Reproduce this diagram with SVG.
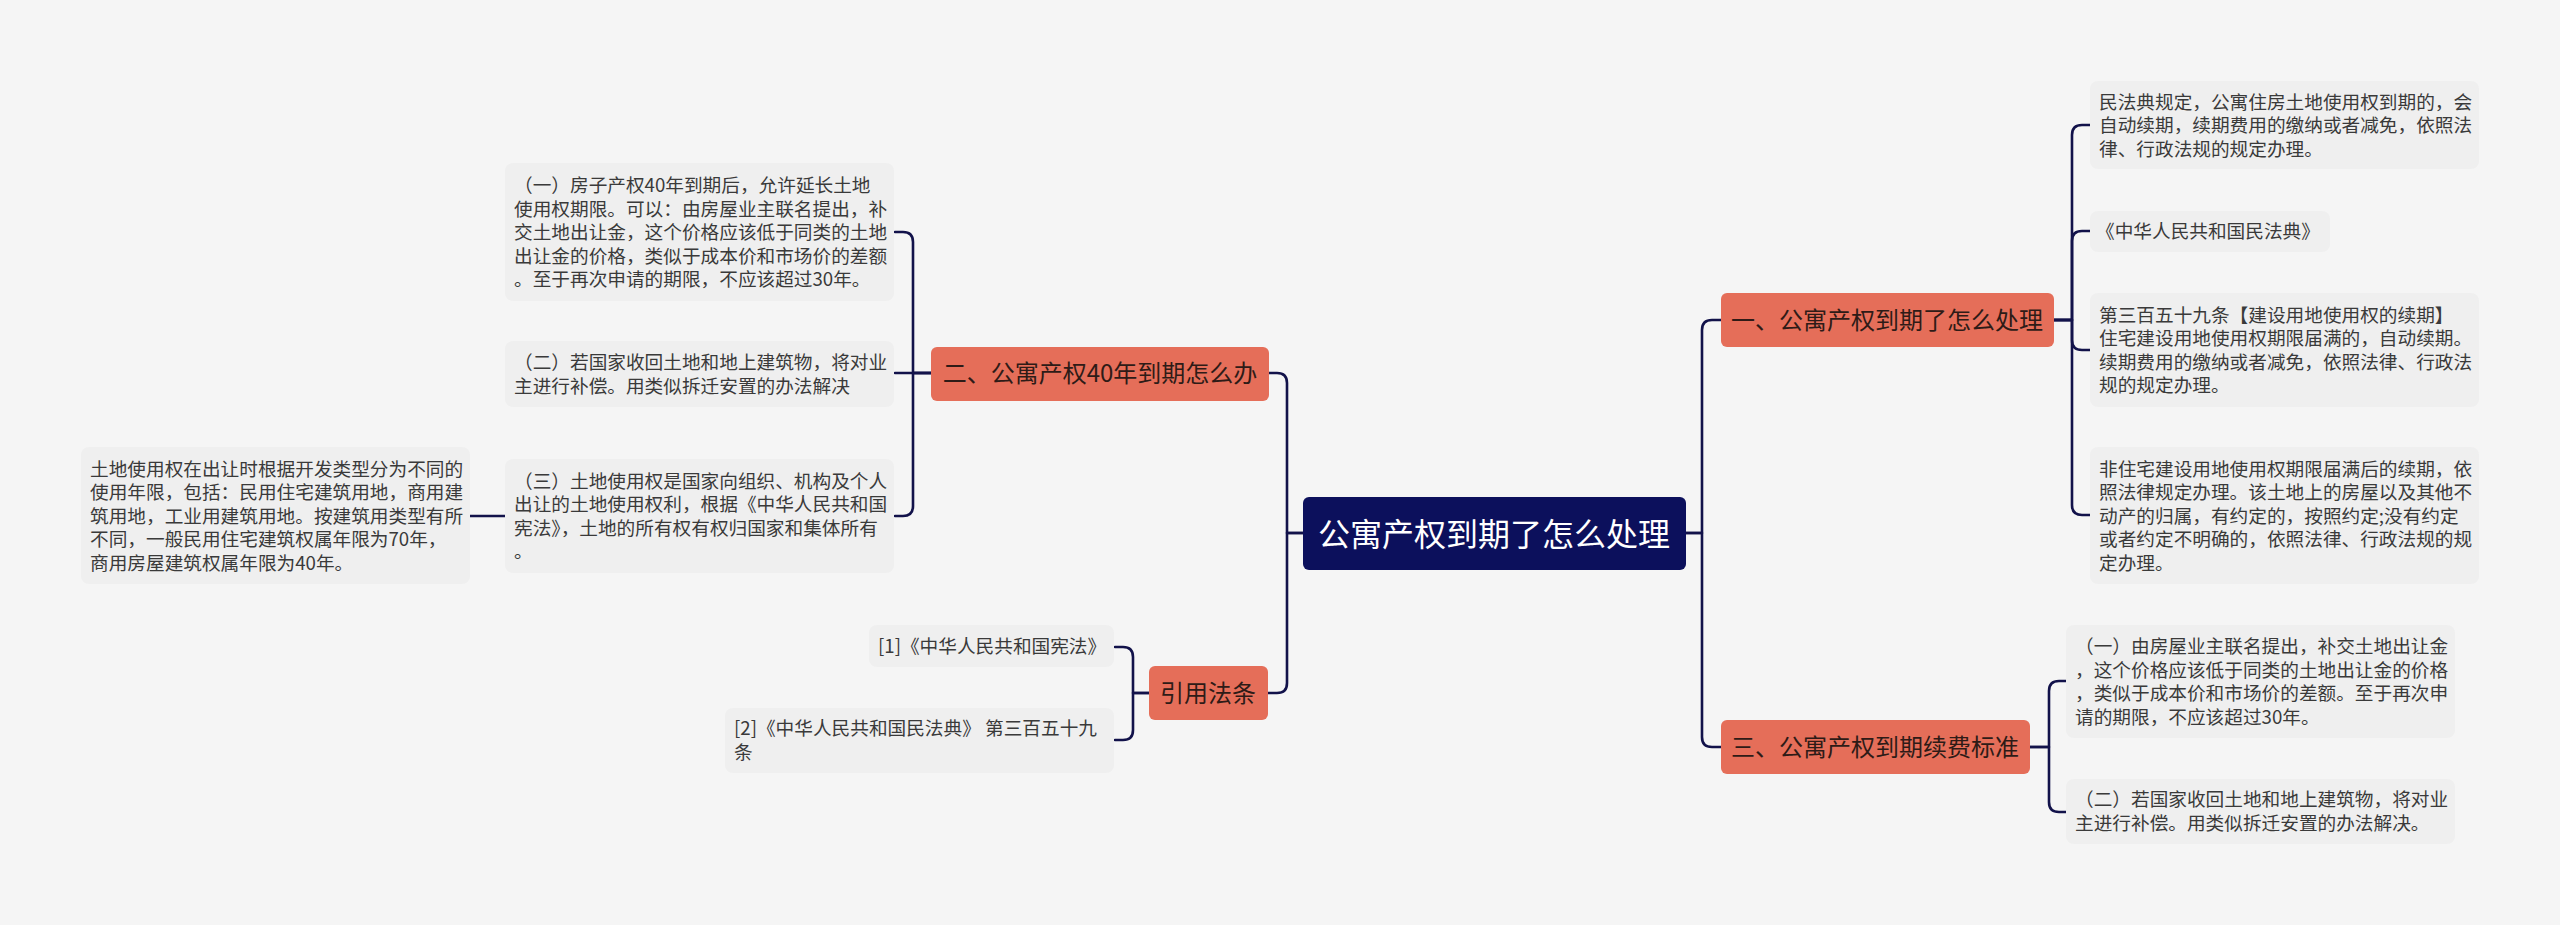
<svg xmlns="http://www.w3.org/2000/svg" width="2560" height="925" viewBox="0 0 2560 925">
<style>
.bg{fill:#f5f5f5}
.leaf{fill:#efefef}
.branch{fill:#e56e59}
.root{fill:#0c105c}
.t{font-family:"Noto Sans CJK SC","Noto Sans",sans-serif;font-size:18.67px;fill:#3a3a3a}
.bt{font-family:"Noto Sans CJK SC","Noto Sans",sans-serif;font-size:24px;fill:#2e1b17;text-anchor:middle}
.rt{font-family:"Noto Sans CJK SC","Noto Sans",sans-serif;font-size:32px;fill:#ffffff;text-anchor:middle}
.c{fill:none;stroke:#12124a;stroke-width:2.6;stroke-linecap:round;stroke-linejoin:round}
</style>
<rect class="bg" x="0" y="0" width="2560" height="925"/>
<g id="connectors">
<path class="c" d="M1303,533 H1287 V383 Q1287,373 1277,373 H1269"/>
<path class="c" d="M1303,533 H1287 V683 Q1287,693 1277,693 H1268"/>
<path class="c" d="M1685,533 H1702 V330 Q1702,320 1712,320 H1721"/>
<path class="c" d="M1685,533 H1702 V737 Q1702,747 1712,747 H1721"/>
<path class="c" d="M931,373 H913 V242 Q913,232 903,232 H895"/>
<path class="c" d="M931,373 H895"/>
<path class="c" d="M931,373 H913 V506 Q913,516 903,516 H895"/>
<path class="c" d="M505,516 H470"/>
<path class="c" d="M1149,693 H1133 V657 Q1133,647 1123,647 H1115"/>
<path class="c" d="M1149,693 H1133 V730 Q1133,740 1123,740 H1115"/>
<path class="c" d="M2054,320 H2072 V135 Q2072,125 2082,125 H2090"/>
<path class="c" d="M2054,320 H2072 V241 Q2072,231 2082,231 H2090"/>
<path class="c" d="M2054,320 H2072 V340 Q2072,350 2082,350 H2090"/>
<path class="c" d="M2054,320 H2072 V505 Q2072,515 2082,515 H2090"/>
<path class="c" d="M2030,747 H2049 V691 Q2049,681 2059,681 H2066"/>
<path class="c" d="M2030,747 H2049 V802 Q2049,812 2059,812 H2066"/>
</g>
<g id="root">
<rect class="root" x="1303" y="497" width="383" height="73" rx="6"/>
<text class="rt" x="1494" y="546">公寓产权到期了怎么处理</text>
</g>
<g id="b2">
<rect class="branch" x="931" y="347" width="338" height="54" rx="6"/>
<text class="bt" x="1100" y="382">二、公寓产权40年到期怎么办</text>
</g>
<g id="b4">
<rect class="branch" x="1149" y="666" width="119" height="54" rx="6"/>
<text class="bt" x="1208" y="702">引用法条</text>
</g>
<g id="b1">
<rect class="branch" x="1721" y="293" width="333" height="54" rx="6"/>
<text class="bt" x="1887" y="329">一、公寓产权到期了怎么处理</text>
</g>
<g id="b3">
<rect class="branch" x="1721" y="720" width="309" height="54" rx="6"/>
<text class="bt" x="1875" y="756">三、公寓产权到期续费标准</text>
</g>
<g id="a1">
<rect class="leaf" x="505" y="163" width="389" height="138" rx="8"/>
<text class="t" x="514" y="192">（一）房子产权40年到期后，允许延长土地</text>
<text class="t" x="514" y="215.5">使用权期限。可以：由房屋业主联名提出，补</text>
<text class="t" x="514" y="239">交土地出让金，这个价格应该低于同类的土地</text>
<text class="t" x="514" y="262.5">出让金的价格，类似于成本价和市场价的差额</text>
<text class="t" x="514" y="286">。至于再次申请的期限，不应该超过30年。</text>
</g>
<g id="a2">
<rect class="leaf" x="505" y="341" width="389" height="66" rx="8"/>
<text class="t" x="514" y="369">（二）若国家收回土地和地上建筑物，将对业</text>
<text class="t" x="514" y="392.5">主进行补偿。用类似拆迁安置的办法解决</text>
</g>
<g id="a3">
<rect class="leaf" x="505" y="459" width="389" height="114" rx="8"/>
<text class="t" x="514" y="487.5">（三）土地使用权是国家向组织、机构及个人</text>
<text class="t" x="514" y="511">出让的土地使用权利，根据《中华人民共和国</text>
<text class="t" x="514" y="534.5">宪法》，土地的所有权有权归国家和集体所有</text>
<text class="t" x="514" y="558">。</text>
</g>
<g id="l1">
<rect class="leaf" x="81" y="447" width="389" height="137" rx="8"/>
<text class="t" x="90" y="475.5">土地使用权在出让时根据开发类型分为不同的</text>
<text class="t" x="90" y="499">使用年限，包括：民用住宅建筑用地，商用建</text>
<text class="t" x="90" y="522.5">筑用地，工业用建筑用地。按建筑用类型有所</text>
<text class="t" x="90" y="546">不同，一般民用住宅建筑权属年限为70年，</text>
<text class="t" x="90" y="569.5">商用房屋建筑权属年限为40年。</text>
</g>
<g id="c1">
<rect class="leaf" x="869" y="625" width="245" height="42" rx="8"/>
<text class="t" x="878" y="653">[1]《中华人民共和国宪法》</text>
</g>
<g id="c2">
<rect class="leaf" x="725" y="708" width="389" height="65" rx="8"/>
<text class="t" x="734" y="735">[2]《中华人民共和国民法典》 第三百五十九</text>
<text class="t" x="734" y="758.5">条</text>
</g>
<g id="r1">
<rect class="leaf" x="2090" y="81" width="389" height="88" rx="8"/>
<text class="t" x="2099" y="108.5">民法典规定，公寓住房土地使用权到期的，会</text>
<text class="t" x="2099" y="132">自动续期，续期费用的缴纳或者减免，依照法</text>
<text class="t" x="2099" y="155.5">律、行政法规的规定办理。</text>
</g>
<g id="r2">
<rect class="leaf" x="2090" y="211" width="240" height="41" rx="8"/>
<text class="t" x="2096" y="238">《中华人民共和国民法典》</text>
</g>
<g id="r3">
<rect class="leaf" x="2090" y="293" width="389" height="114" rx="8"/>
<text class="t" x="2099" y="321.5">第三百五十九条【建设用地使用权的续期】</text>
<text class="t" x="2099" y="345">住宅建设用地使用权期限届满的，自动续期。</text>
<text class="t" x="2099" y="368.5">续期费用的缴纳或者减免，依照法律、行政法</text>
<text class="t" x="2099" y="392">规的规定办理。</text>
</g>
<g id="r4">
<rect class="leaf" x="2090" y="447" width="389" height="137" rx="8"/>
<text class="t" x="2099" y="475.5">非住宅建设用地使用权期限届满后的续期，依</text>
<text class="t" x="2099" y="499">照法律规定办理。该土地上的房屋以及其他不</text>
<text class="t" x="2099" y="522.5">动产的归属，有约定的，按照约定;没有约定</text>
<text class="t" x="2099" y="546">或者约定不明确的，依照法律、行政法规的规</text>
<text class="t" x="2099" y="569.5">定办理。</text>
</g>
<g id="t1">
<rect class="leaf" x="2066" y="625" width="389" height="113" rx="8"/>
<text class="t" x="2075" y="653">（一）由房屋业主联名提出，补交土地出让金</text>
<text class="t" x="2075" y="676.5">，这个价格应该低于同类的土地出让金的价格</text>
<text class="t" x="2075" y="700">，类似于成本价和市场价的差额。至于再次申</text>
<text class="t" x="2075" y="723.5">请的期限，不应该超过30年。</text>
</g>
<g id="t2">
<rect class="leaf" x="2066" y="779" width="389" height="65" rx="8"/>
<text class="t" x="2075" y="806">（二）若国家收回土地和地上建筑物，将对业</text>
<text class="t" x="2075" y="829.5">主进行补偿。用类似拆迁安置的办法解决。</text>
</g>
</svg>
